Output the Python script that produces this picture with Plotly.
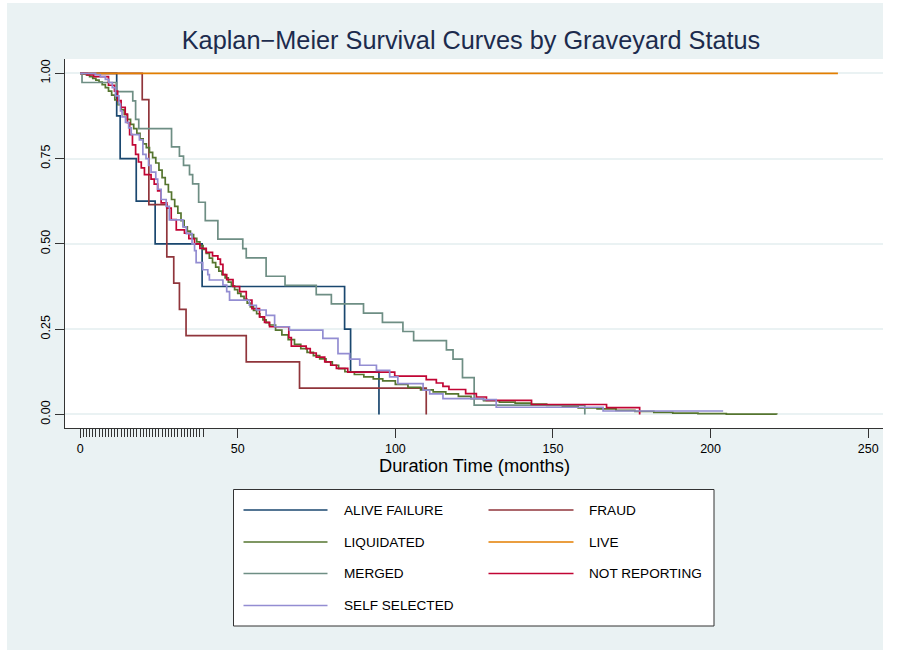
import plotly.graph_objects as go

# ---------------- data ----------------
SERIES = ["ALIVE FAILURE", "FRAUD", "LIQUIDATED", "LIVE", "MERGED", "NOT REPORTING", "SELF SELECTED"]
COLORS = ["#1A476F", "#90353B", "#55752F", "#E37E00", "#6E8E84", "#C10534", "#938DD2"]

ALIVE_T = [0, 11.6, 12.7, 17.8, 23.8, 38.7, 83.9, 85.8, 94.8]
ALIVE_S = [1, 0.875, 0.75, 0.625, 0.5, 0.375, 0.25, 0.125, 0]

FRAUD_T = [0, 19.7, 21.8, 27.5, 29.7, 31.5, 33.6, 52.7, 69.6, 109.8]
FRAUD_S = [1, 0.923, 0.615, 0.462, 0.385, 0.308, 0.231, 0.154, 0.077, 0]

LIQ_T = [0, 1, 2, 3, 4, 5, 6, 7, 8, 9, 10, 11, 12, 13, 14, 15, 16, 17, 18, 19,
         20, 21, 22, 23, 24, 25, 26, 27, 28, 29, 30, 31, 32, 33, 34, 35, 36, 37, 38, 39,
         40, 41, 42, 43, 44, 45, 46, 47, 48, 49, 50, 51, 52, 53, 54, 55, 56, 57, 58, 59,
         60, 62, 64, 66, 68, 70, 72, 74, 76, 78, 80, 82, 84, 87, 90, 93, 96, 100, 104, 108,
         112, 116, 120, 124, 128, 133, 138, 143, 148, 153, 158, 164, 170, 176, 182, 188, 196, 205, 214, 221]
LIQ_S = [1.000, 0.998, 0.995, 0.990, 0.985, 0.980, 0.974, 0.967, 0.958, 0.948,
         0.936, 0.922, 0.908, 0.893, 0.879, 0.865, 0.850, 0.838, 0.824, 0.808,
         0.793, 0.782, 0.768, 0.753, 0.737, 0.716, 0.694, 0.674, 0.652, 0.630,
         0.610, 0.590, 0.568, 0.550, 0.537, 0.527, 0.516, 0.506, 0.495, 0.484,
         0.472, 0.458, 0.445, 0.432, 0.420, 0.410, 0.400, 0.388, 0.377, 0.366,
         0.355, 0.346, 0.337, 0.326, 0.315, 0.305, 0.295, 0.286, 0.277, 0.269,
         0.262, 0.247, 0.233, 0.219, 0.205, 0.193, 0.182, 0.172, 0.163, 0.154,
         0.144, 0.134, 0.125, 0.117, 0.110, 0.104, 0.098, 0.088, 0.079, 0.072,
         0.066, 0.060, 0.053, 0.046, 0.040, 0.036, 0.033, 0.030, 0.026, 0.022,
         0.019, 0.016, 0.012, 0.009, 0.006, 0.004, 0.002, 0.001, 0.0005, 0.0]

LIVE_T = [0, 240.4]
LIVE_S = [1, 1]

MERGED_T = [0, 0.6, 11.5, 16.7, 17.6, 18.6, 29.0, 31.5, 32.8, 34.7, 35.7, 37.6, 39.7, 43.7,
            51.6, 52.7, 59.0, 65.0, 74.9, 79.7, 89.9, 95.9, 102.4, 105.8, 116.2, 118.3,
            121.3, 125.0, 160.1]
MERGED_S = [1, .973, .946, .919, .865, .838, .784, .757, .730, .703, .676, .622, .568, .514,
            .486, .459, .405, .378, .351, .324, .297, .270, .243, .216, .189, .162,
            .108, .027, 0]

NR_T = [0, 2.2, 4.3, 9.0, 10.9, 11.9, 13.0, 14.3, 15.0, 15.7, 16.6, 17.6, 18.5, 19.4, 20.4,
        22.5, 23.5, 24.6, 25.7, 27.5, 28.9, 30.5, 33.1, 34.5, 36.3, 38.0, 40.0, 42.0, 43.7,
        44.5, 45.3, 46.5, 48.5, 50.6, 52.7, 54.5, 56.9, 58.5, 60.1, 66.2, 67.0, 71.7, 73.0,
        74.9, 77.6, 79.5, 81.3, 84.9, 99.8, 109.8, 113.0, 115.1, 117.0, 122.3, 125.7, 128.9,
        143.2, 167.0, 177.5]
NR_S = [1, .995, .99, .965, .948, .92, .90, .88, .855, .82, .79, .762, .74, .723, .703,
        .69, .675, .655, .62, .605, .571, .541, .531, .515, .50, .487, .475, .465, .455,
        .44, .41, .395, .375, .36, .335, .31, .286, .27, .257, .225, .20, .193, .18,
        .168, .154, .144, .135, .124, .112, .102, .092, .082, .073, .061, .051, .041,
        .029, .02, 0]

SS_T = [0, 4.9, 6.4, 8.0, 9.1, 10.2, 11.2, 12.3, 12.8, 13.3, 14.4, 15.4, 16.2, 18.8, 19.9,
        20.9, 21.7, 22.5, 24.0, 24.6, 25.7, 27.3, 28.3, 32.6, 33.7, 35.5, 36.3, 36.8, 38.9,
        40.5, 41.0, 45.3, 46.5, 47.4, 53.7, 55.9, 59.0, 61.7, 66.4, 77.0, 81.8, 85.5, 88.7,
        94.0, 98.2, 100.8, 108.8, 110.9, 115.1, 127.8, 132.0, 165.9, 204.0]
SS_S = [1, .996, .99, .982, .973, .958, .934, .91, .89, .872, .856, .84, .82, .805, .762,
        .75, .73, .71, .69, .66, .63, .61, .57, .55, .53, .50, .48, .445, .424,
        .41, .394, .379, .36, .335, .32, .306, .29, .257, .247, .223, .178, .162, .144,
        .129, .11, .09, .071, .06, .046, .043, .021, .01, .01]

X_TICKS = [0, 50, 100, 150, 200, 250]
Y_TICKS = [0, 0.25, 0.5, 0.75, 1.0]
Y_TICK_LABELS = ["0.00", "0.25", "0.50", "0.75", "1.00"]
RUG_TICKS = list(range(0, 40))

TITLE = "Kaplan\u2212Meier Survival Curves by Graveyard Status"
X_TITLE = "Duration Time (months)"

DATA = [(ALIVE_T, ALIVE_S), (FRAUD_T, FRAUD_S), (LIQ_T, LIQ_S), (LIVE_T, LIVE_S),
        (MERGED_T, MERGED_S), (NR_T, NR_S), (SS_T, SS_S)]

# ---------------- layout geometry ----------------
W, H = 897, 654
PL, PR, PT, PB = 65, 883, 59, 428          # plot area in pixels
PW, PH = PR - PL, PB - PT
FONT = "Liberation Sans, Arial, Helvetica, sans-serif"
BG = "#EAF2F3"


def px(x):
    return (x - PL) / PW


def py(y):
    return (PB - y) / PH


fig = go.Figure()
for name, color, (t, s) in zip(SERIES, COLORS, DATA):
    fig.add_trace(go.Scatter(x=t, y=s, mode="lines", name=name,
                             line=dict(color=color, width=1.7, shape="hv"),
                             showlegend=False, hoverinfo="skip"))

# dummy trace for rug-tick axis
fig.add_trace(go.Scatter(x=RUG_TICKS, y=[None] * len(RUG_TICKS), xaxis="x2",
                         mode="lines", showlegend=False, hoverinfo="skip"))

shapes = [
    dict(type="rect", xref="paper", yref="paper", x0=px(7), x1=px(883), y0=py(650), y1=py(3),
         fillcolor=BG, line=dict(width=0), layer="below"),
    dict(type="rect", xref="paper", yref="paper", x0=0, x1=1, y0=0, y1=1,
         fillcolor="white", line=dict(width=0), layer="below"),
    # legend box
    dict(type="rect", xref="paper", yref="paper", x0=px(233.5), x1=px(714), y0=py(626), y1=py(489.5),
         fillcolor="white", line=dict(color="#333333", width=1)),
]
annotations = [
    dict(text=X_TITLE, xref="paper", yref="paper", x=px((PL + PR) / 2), y=py(466),
         xanchor="center", yanchor="middle", showarrow=False,
         font=dict(family=FONT, size=18.3, color="black")),
]

# manual legend (2 columns)
row_y = [510, 542, 573.5, 605.5]
col_line = [(243.5, 327.5), (488.5, 573.5)]
col_text = [341.5, 586.5]
for i, (name, color) in enumerate(zip(SERIES, COLORS)):
    r, c = divmod(i, 2)
    yy = py(row_y[r])
    shapes.append(dict(type="line", xref="paper", yref="paper",
                       x0=px(col_line[c][0]), x1=px(col_line[c][1]), y0=yy, y1=yy,
                       line=dict(color=color, width=1.7)))
    annotations.append(dict(text=name, xref="paper", yref="paper", x=px(col_text[c]), y=yy,
                            xanchor="left", yanchor="middle", showarrow=False,
                            font=dict(family=FONT, size=13.6, color="black")))

XR = [-4.8, 254.7]
fig.update_layout(
    width=W, height=H,
    margin=dict(l=PL, r=W - PR, t=PT, b=H - PB, pad=0),
    paper_bgcolor="white", plot_bgcolor="white",
    showlegend=False,
    title=dict(text=TITLE, x=px(471), xref="paper", xanchor="center",
               y=1 - 40 / H, yref="container", yanchor="middle",
               font=dict(family=FONT, size=25.3, color="#1C2B4D")),
    xaxis=dict(range=XR, tickvals=X_TICKS, ticks="outside", ticklen=9, tickwidth=1,
               tickcolor="#333333", showline=True, linecolor="#333333", linewidth=1.3,
               showgrid=False, zeroline=False,
               tickfont=dict(family=FONT, size=12.5, color="black")),
    xaxis2=dict(range=XR, overlaying="x", anchor="y", side="bottom", tickvals=RUG_TICKS,
                ticks="outside", ticklen=8, tickwidth=1, tickcolor="#333333",
                showticklabels=False, showline=False, showgrid=False, zeroline=False),
    yaxis=dict(range=[-0.0399, 1.0419], tickvals=Y_TICKS, ticktext=Y_TICK_LABELS,
               tickangle=-90, ticks="outside", ticklen=9, tickwidth=1, tickcolor="#333333",
               showline=True, linecolor="#333333", linewidth=1.3,
               showgrid=True, gridcolor=BG, gridwidth=1.5, zeroline=False,
               tickfont=dict(family=FONT, size=12.5, color="black")),
    shapes=shapes, annotations=annotations,
)

fig.write_html("out.html")
